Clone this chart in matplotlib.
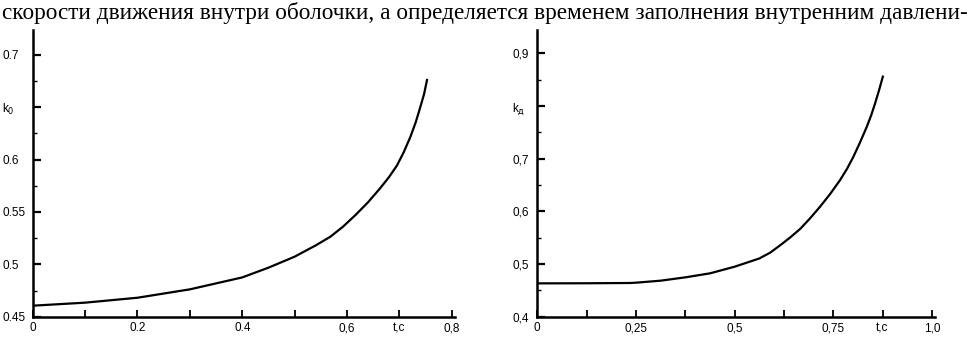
import matplotlib
matplotlib.use("Agg")
import matplotlib.pyplot as plt
from matplotlib.ticker import FixedLocator

# top line of book text (scanned page)
caption = "скорости движения внутри оболочки, а определяется временем заполнения внутренним давлени-"

# left graph: k0 vs t
t_left = [0.0, 0.1, 0.2, 0.3, 0.4, 0.45, 0.5, 0.54, 0.568, 0.592, 0.616, 0.64, 0.663,
          0.68, 0.695, 0.708, 0.721, 0.731, 0.740, 0.747, 0.7526]
k_left = [0.4605, 0.4634, 0.4681, 0.4761, 0.4875, 0.4968, 0.5073, 0.518, 0.5263, 0.5358,
          0.547, 0.5592, 0.5725, 0.5832, 0.5941, 0.6068, 0.6218, 0.6355, 0.6504, 0.6625,
          0.6759]
xt_left = [0.0, 0.1, 0.2, 0.3, 0.4, 0.5, 0.6, 0.7, 0.8]
xl_left = ["0", "", "0.2", "", "0.4", "", "0,6", "t,c", "0,8"]
yt_left = [0.45, 0.5, 0.55, 0.6, 0.65, 0.7]
yl_left = ["0.45", "0.5", "0.55", "0.6", "k$_0$", "0.7"]
ym_left = [0.475, 0.525, 0.575, 0.625, 0.675]

# right graph: kд vs t
t_right = [0.0, 0.125, 0.235, 0.25, 0.3125, 0.375, 0.4375, 0.5, 0.5625, 0.59, 0.6154,
           0.641, 0.666, 0.691, 0.7167, 0.742, 0.7675, 0.785, 0.8012, 0.818, 0.8352,
           0.8462, 0.8562, 0.866, 0.8758]
k_right = [0.4633, 0.4635, 0.464, 0.4646, 0.4684, 0.4747, 0.4823, 0.4949, 0.5105, 0.5215,
           0.5355, 0.5505, 0.5665, 0.5865, 0.6089, 0.6328, 0.6595, 0.6808, 0.7038, 0.7310,
           0.7608, 0.7823, 0.8052, 0.8295, 0.8558]
xt_right = [0.0, 0.125, 0.25, 0.375, 0.5, 0.625, 0.75, 0.875, 1.0]
xl_right = ["0", "", "0,25", "", "0,5", "", "0,75", "t,c", "1,0"]
yt_right = [0.4, 0.5, 0.6, 0.7, 0.8, 0.9]
yl_right = ["0,4", "0,5", "0,6", "0,7", "k$_\\mathrm{д}$", "0,9"]
ym_right = [0.45, 0.55, 0.65, 0.75, 0.85]

W, H = 970, 338
fig = plt.figure(figsize=(W / 100, H / 100), dpi=100)

ax1 = fig.add_axes([32.7 / W, 1 - 316.7 / H, (455 - 32.7) / W, (316.7 - 30) / H])
ax2 = fig.add_axes([537.3 / W, 1 - 316.7 / H, (935 - 537.3) / W, (316.7 - 30) / H])


def style(ax, t, k, xt, xl, yt, yl, ym, xlim, ylim, ypad):
    ax.plot(t, k, color="black", lw=1.6, solid_joinstyle="round")
    ax.set_xlim(*xlim)
    ax.set_ylim(*ylim)
    for s in ["top", "right"]:
        ax.spines[s].set_visible(False)
    for s in ["left", "bottom"]:
        ax.spines[s].set_linewidth(1.8)
    ax.set_xticks(xt)
    ax.set_xticklabels(xl)
    ax.set_yticks(yt)
    ax.set_yticklabels(yl)
    ax.yaxis.set_minor_locator(FixedLocator(ym))
    ax.tick_params(axis="x", direction="in", length=5, width=1.3, pad=4, labelsize=8.5)
    ax.tick_params(axis="y", which="major", direction="in", length=6, width=1.6,
                   pad=ypad, labelsize=8.5)
    ax.tick_params(axis="y", which="minor", direction="in", length=3, width=1.0)
    for lab in ax.get_yticklabels():
        lab.set_horizontalalignment("left")
    for lab in ax.get_xticklabels() + ax.get_yticklabels():
        lab.set_family("Liberation Sans")


style(ax1, t_left, k_left, xt_left, xl_left, yt_left, yl_left, ym_left,
      (0, 0.806), (0.45, 0.7236), 22)
style(ax2, t_right, k_right, xt_right, xl_right, yt_right, yl_right, ym_right,
      (0, 1.008), (0.4, 0.9444), 18)

txt = fig.text(2 / W, 1 - 13 / H, caption, family="Liberation Serif",
               fontsize=15, va="center", ha="left")
# stretch the caption so it spans the page width like the scan
fig.canvas.draw()
w = txt.get_window_extent().width
txt.set_fontsize(15 * 966 / w)

fig.savefig("out.png", dpi=100)
